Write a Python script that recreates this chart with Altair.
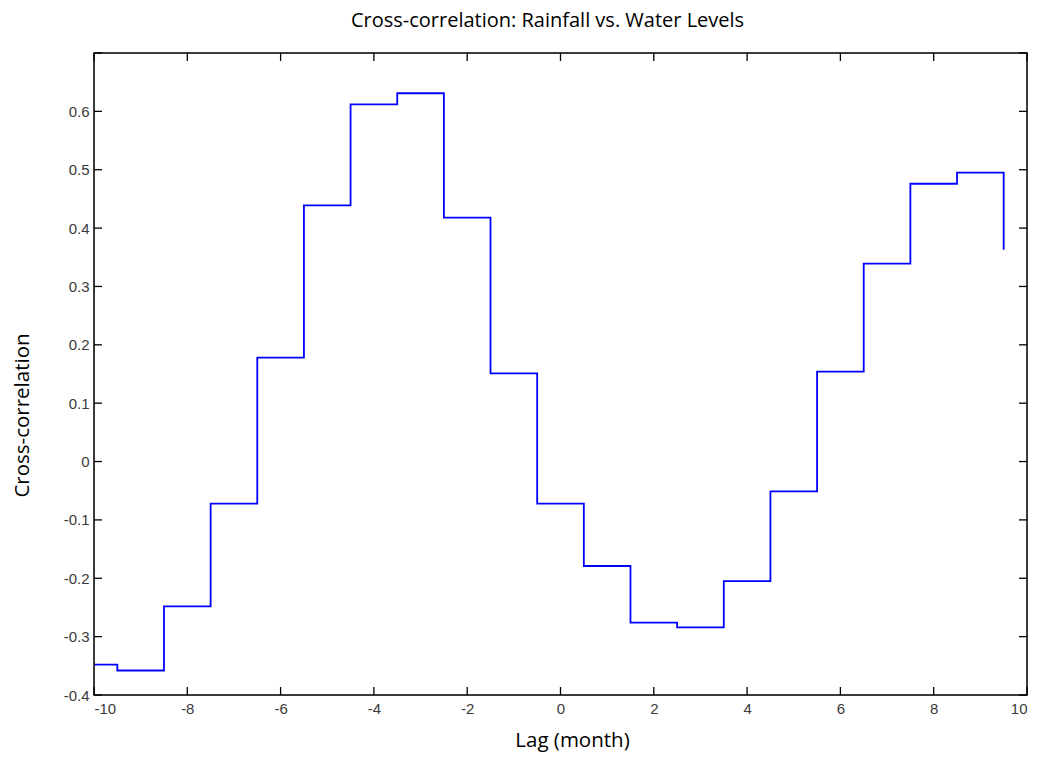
import altair as alt
import pandas as pd

lags = list(range(-10, 11))
xcorr = [-0.348, -0.358, -0.248, -0.072, 0.178, 0.439, 0.612, 0.631, 0.418, 0.151,
         -0.072, -0.179, -0.276, -0.284, -0.205, -0.051, 0.154, 0.339, 0.476, 0.495, 0.363]
x_ticks = [-10, -8, -6, -4, -2, 0, 2, 4, 6, 8, 10]
y_ticks = [-0.4, -0.3, -0.2, -0.1, 0.0, 0.1, 0.2, 0.3, 0.4, 0.5, 0.6, 0.7]
y_labels = [-0.4, -0.3, -0.2, -0.1, 0.0, 0.1, 0.2, 0.3, 0.4, 0.5, 0.6]

W, H = 933, 642
TL = 8

df = pd.DataFrame({"lag": lags, "xcorr": xcorr})
df["edge"] = [max(l - 0.5, -10) for l in lags]

xscale = alt.Scale(domain=[-10, 10], nice=False, zero=False)
yscale = alt.Scale(domain=[-0.4, 0.7], nice=False, zero=False)

x_axis = alt.Axis(values=x_ticks, labelExpr="toString(datum.value)", ticks=False, domain=False,
                  grid=False, labelFont="Liberation Sans", labelFontSize=15, labelColor="#3a3a3a",
                  labelPadding=6, title="Lag (month)", titleFont="Open Sans", titleFontSize=20.5,
                  titleFontWeight="normal", titleColor="black", titleX=478, titleY=45,
                  titleAlign="center", titleBaseline="middle")
y_axis = alt.Axis(values=y_labels,
                  labelExpr="datum.value == 0 ? '0' : toString(round(datum.value*10)/10)",
                  ticks=False, domain=False, grid=False, labelFont="Liberation Sans",
                  labelFontSize=15, labelColor="#3a3a3a", labelPadding=5,
                  title="Cross-correlation", titleFont="Open Sans", titleFontSize=20.5,
                  titleFontWeight="normal", titleColor="black", titleX=-72, titleY=362,
                  titleAngle=270, titleAlign="center", titleBaseline="middle")

line = alt.Chart(df).mark_line(interpolate="step-after", color="#0000FF", strokeWidth=1.8).encode(
    x=alt.X("edge:Q", scale=xscale, axis=x_axis),
    y=alt.Y("xcorr:Q", scale=yscale, axis=y_axis),
    order="lag:Q",
)

frame = alt.Chart(pd.DataFrame({"k": [0]})).mark_rect(
    fill=None, stroke="black", strokeWidth=1.5).encode(
    x=alt.value(0), x2=alt.value(W), y=alt.value(0), y2=alt.value(H))

ydf = pd.DataFrame({"v": y_ticks})
xdf = pd.DataFrame({"v": x_ticks})
tick_style = dict(color="black", strokeWidth=1.3)

yl = alt.Chart(ydf).mark_rule(**tick_style).encode(
    y=alt.Y("v:Q", scale=yscale), x=alt.value(0), x2=alt.value(TL))
yr = alt.Chart(ydf).mark_rule(**tick_style).encode(
    y=alt.Y("v:Q", scale=yscale), x=alt.value(W - TL), x2=alt.value(W))
xb = alt.Chart(xdf).mark_rule(**tick_style).encode(
    x=alt.X("v:Q", scale=xscale), y=alt.value(H - TL), y2=alt.value(H))
xt = alt.Chart(xdf).mark_rule(**tick_style).encode(
    x=alt.X("v:Q", scale=xscale), y=alt.value(0), y2=alt.value(TL))

chart = alt.layer(line, frame, yl, yr, xb, xt).properties(
    width=W, height=H,
    title=alt.TitleParams("Cross-correlation: Rainfall vs. Water Levels", font="Open Sans",
                          fontSize=20, fontWeight="normal", color="black", anchor="middle",
                          offset=21, dx=-13),
    autosize=alt.AutoSizeParams(type="none"),
    padding={"left": 86, "top": 45, "right": 2, "bottom": 60},
).configure_view(stroke=None).configure(background="white")

chart.save("out.html", embed_options={"renderer": "svg", "actions": False})
